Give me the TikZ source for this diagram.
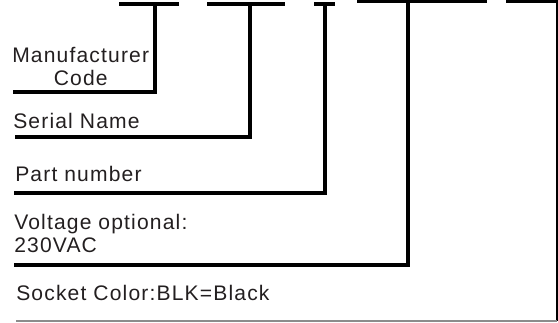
\documentclass[tikz,border=0pt]{standalone}
\usepackage{fontspec}
\setmainfont{Liberation Sans}[LetterSpace=5.5]
\definecolor{inkgray}{RGB}{35,31,32}
\tikzset{
  partlabel/.style={anchor=base west,inner sep=0pt,text=inkgray,
    font=\fontsize{15.8}{17}\selectfont},
  partline/.style={line width=2.5pt},
  edgeline/.style={line width=1.2pt},
}
\begin{document}
\begin{tikzpicture}[x=0.75pt,y=-0.75pt]
  \useasboundingbox (0,0) rectangle (558,322);
  % labels
  \node[partlabel,align=center] (mfr) at (12,85) {Manufacturer\\Code};
  \node[partlabel] (serial) at (13,128) {Serial Name};
  \node[partlabel] (part) at (15,181) {Part number};
  \node[partlabel,align=left] (volt) at (14,252) {Voltage optional:\\230VAC};
  \node[partlabel] (socket) at (16,300) {Socket Color:BLK=Black};
  % bar tops
  \coordinate (t1) at (155,4);
  \coordinate (t2) at (250,4);
  \coordinate (t3) at (325,4);
  \coordinate (t4) at (408,1);
  \coordinate (t5) at (557,1);
  % line ends under the labels
  \coordinate (e1) at (13,92);
  \coordinate (e2) at (15,137);
  \coordinate (e3) at (14,193);
  \coordinate (e4) at (14,265);
  \coordinate (e5) at (16,321);
  % top bars
  \foreach \a/\b/\y in {119/179/4,207/285/4,314/335/4,357/487/1,506/558/1}
    \draw[partline] (\a,\y) -- (\b,\y);
  \foreach \i in {1,2,3,4}
    \draw[partline] (t\i) -- (t\i |- e\i) -- (e\i);
  \draw[edgeline] (t5) -- (t5 |- e5);
  \draw[line width=0.8pt,black!45] (t5 |- e5) -- (e5);
\end{tikzpicture}
\end{document}
